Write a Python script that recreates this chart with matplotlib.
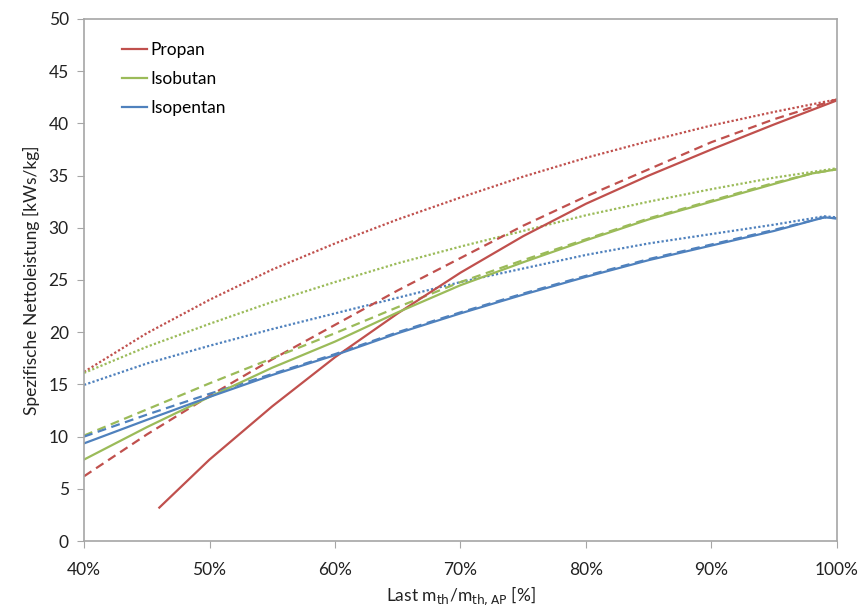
import matplotlib
matplotlib.use('Agg')
import numpy as np
from matplotlib import pyplot as plt

plt.rcParams['font.family'] = ['Lato', 'DejaVu Sans']

# Last in %
load_5 = [40, 45, 50, 55, 60, 65, 70, 75, 80, 85, 90, 95, 100]
load_pentan = [40, 45, 50, 55, 60, 65, 70, 75, 80, 85, 90, 95, 99, 100]
load_butan = [40, 45, 50, 55, 60, 65, 70, 75, 80, 85, 90, 95, 98, 100]
load_propan_solid = [46, 50, 55, 60, 65, 70, 75, 80, 85, 90, 95, 100]

# Propan
propan_solid = [3.2, 7.8, 12.9, 17.6, 21.8, 25.7, 29.2, 32.3, 35.0, 37.5, 39.9, 42.2]
propan_dashed = [6.2, 10.2, 13.9, 17.4, 20.7, 24.0, 27.1, 30.2, 33.0, 35.6, 38.2, 40.4, 42.3]
propan_dotted = [16.2, 19.9, 23.1, 26.0, 28.5, 30.8, 32.9, 34.9, 36.7, 38.3, 39.8, 41.1, 42.3]

# Isobutan
isobutan_solid = [7.8, 10.9, 13.8, 16.6, 19.1, 21.9, 24.5, 26.7, 28.8, 30.8, 32.5, 34.2, 35.2, 35.6]
isobutan_dashed = [10.1, 12.6, 15.1, 17.5, 19.9, 22.4, 24.8, 26.9, 28.9, 30.9, 32.6, 34.3, 35.2, 35.6]
isobutan_dotted = [16.1, 18.6, 20.8, 22.9, 24.8, 26.6, 28.2, 29.7, 31.2, 32.5, 33.7, 34.8, 35.7]

# Isopentan
isopentan_solid = [9.35, 11.6, 13.8, 15.9, 17.8, 19.9, 21.8, 23.6, 25.3, 26.9, 28.3, 29.7, 31.0, 30.9]
isopentan_dashed = [10.0, 12.1, 14.1, 16.0, 17.9, 20.0, 21.9, 23.7, 25.4, 27.0, 28.4, 29.8, 31.0, 30.9]
isopentan_dotted = [14.95, 17.0, 18.7, 20.3, 21.8, 23.3, 24.8, 26.1, 27.4, 28.5, 29.4, 30.3, 31.1, 31.0]

c_red = '#C0504D'
c_green = '#9BBB59'
c_blue = '#4F81BD'
grey = '#A6A6A6'

fig = plt.figure(figsize=(8.61, 6.1), dpi=100)
ax = fig.add_axes([0.0976, 0.1131, 0.8744, 0.8558])

lw = 1.6
dash = (0, (4, 2.5))
dot = (0, (1, 1))

# dotted
ax.plot(load_5, propan_dotted, color=c_red, lw=lw, ls=dot)
ax.plot(load_5, isobutan_dotted, color=c_green, lw=lw, ls=dot)
ax.plot(load_pentan, isopentan_dotted, color=c_blue, lw=lw, ls=dot)
# dashed
ax.plot(load_5, propan_dashed, color=c_red, lw=lw, ls=dash)
ax.plot(load_butan, isobutan_dashed, color=c_green, lw=lw, ls=dash)
ax.plot(load_pentan, isopentan_dashed, color=c_blue, lw=lw, ls=dash)
# solid
ax.plot(load_propan_solid, propan_solid, color=c_red, lw=lw, label='Propan')
ax.plot(load_butan, isobutan_solid, color=c_green, lw=lw, label='Isobutan')
ax.plot(load_pentan, isopentan_solid, color=c_blue, lw=lw, label='Isopentan')

ax.set_xlim(40, 100)
ax.set_ylim(0, 50)
ax.set_xticks(np.arange(40, 101, 10))
ax.set_xticklabels(['{}%'.format(v) for v in range(40, 101, 10)])
ax.set_yticks(np.arange(0, 51, 5))

for sp in ax.spines.values():
    sp.set_color(grey)
    sp.set_linewidth(1.2)
ax.tick_params(axis='both', direction='out', length=5, color=grey, labelsize=12.5,
               labelcolor='#222222', pad=6)
ax.tick_params(axis='x', pad=10)

ax.set_xlabel('Last m$_{\\mathrm{th}}$/m$_{\\mathrm{th,AP}}$ [%]', fontsize=12.5,
              color='#222222', labelpad=5)
ax.set_ylabel('Spezifische Nettoleistung [kWs/kg]', fontsize=12.5, color='#222222', labelpad=6)

leg = ax.legend(loc='upper left', bbox_to_anchor=(0.03, 0.985), frameon=False,
                fontsize=12.5, handlelength=1.4, handletextpad=0.2, labelspacing=0.75)

fig.savefig('out.png', dpi=100)
